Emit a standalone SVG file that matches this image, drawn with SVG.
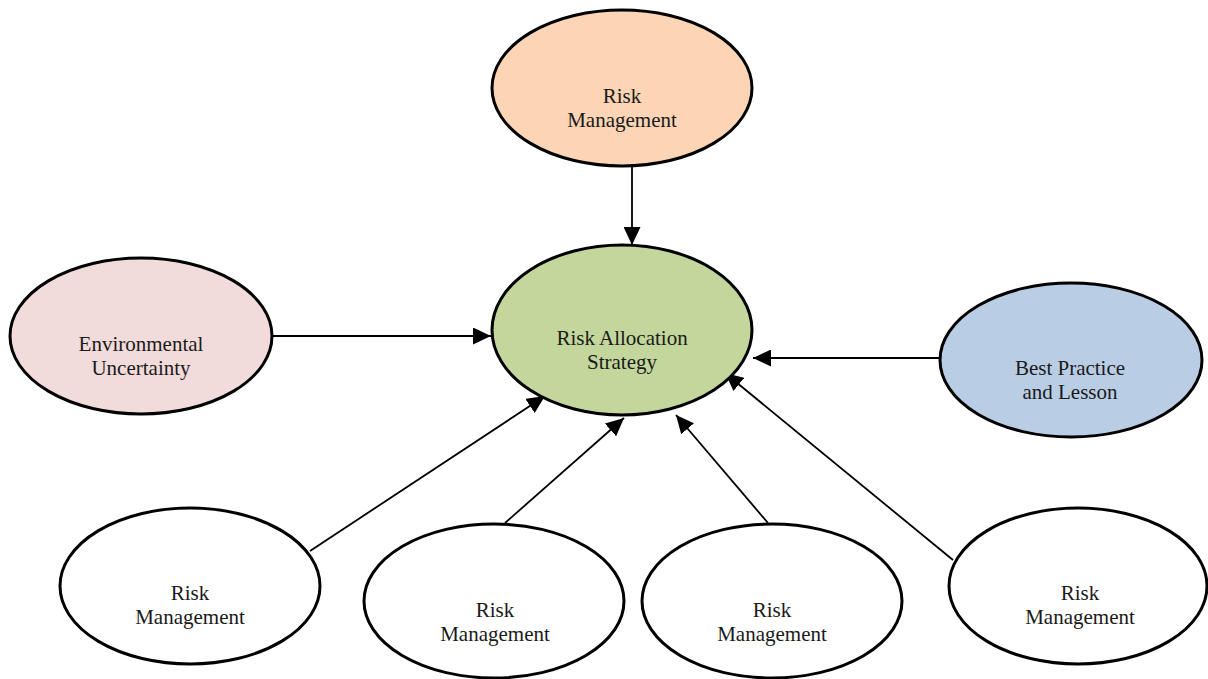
<svg xmlns="http://www.w3.org/2000/svg" width="1208" height="679" viewBox="0 0 1208 679">
  <defs>
    <marker id="arrow" markerUnits="userSpaceOnUse" markerWidth="19" markerHeight="17" refX="18" refY="8.5" orient="auto">
      <path d="M0,0 L18,8.5 L0,17 Z" fill="#000"/>
    </marker>
    <style>
      .node ellipse { stroke: #000; stroke-width: 3; }
      .node text { font-family: "Liberation Serif", "Times New Roman", serif; font-size: 21px; fill: #1a1a1a; text-anchor: middle; }
      .edge { stroke: #000; stroke-width: 1.8; fill: none; marker-end: url(#arrow); }
    </style>
  </defs>
  <rect width="1208" height="679" fill="#fff"/>

  <g id="connectors">
    <line class="edge" x1="632" y1="166" x2="632" y2="245"/>
    <line class="edge" x1="272" y1="336" x2="491" y2="336"/>
    <line class="edge" x1="940" y1="358" x2="753" y2="358"/>
    <line class="edge" x1="310" y1="551" x2="545" y2="396"/>
    <line class="edge" x1="505" y1="523" x2="624" y2="418"/>
    <line class="edge" x1="768" y1="523" x2="676" y2="415"/>
    <line class="edge" x1="953" y1="560" x2="725" y2="373"/>
  </g>

  <g id="node-top" class="node">
    <ellipse cx="622" cy="88" rx="130" ry="78" fill="#FBD5B5"/>
    <text x="622" y="103">Risk</text>
    <text x="622" y="127">Management</text>
  </g>

  <g id="node-center" class="node">
    <ellipse cx="622" cy="330" rx="130" ry="85" fill="#C3D69B"/>
    <text x="622" y="345">Risk Allocation</text>
    <text x="622" y="369">Strategy</text>
  </g>

  <g id="node-env" class="node">
    <ellipse cx="141" cy="336" rx="131" ry="78" fill="#F2DCDB"/>
    <text x="141" y="351">Environmental</text>
    <text x="141" y="375">Uncertainty</text>
  </g>

  <g id="node-best" class="node">
    <ellipse cx="1071" cy="360" rx="131" ry="77" fill="#B9CDE5"/>
    <text x="1070" y="375">Best Practice</text>
    <text x="1070" y="399">and Lesson</text>
  </g>

  <g id="node-rm1" class="node">
    <ellipse cx="190" cy="586" rx="130" ry="78" fill="#fff"/>
    <text x="190" y="600">Risk</text>
    <text x="190" y="624">Management</text>
  </g>

  <g id="node-rm2" class="node">
    <ellipse cx="494" cy="601" rx="130" ry="77" fill="#fff"/>
    <text x="495" y="617">Risk</text>
    <text x="495" y="641">Management</text>
  </g>

  <g id="node-rm3" class="node">
    <ellipse cx="772" cy="601" rx="130" ry="77" fill="#fff"/>
    <text x="772" y="617">Risk</text>
    <text x="772" y="641">Management</text>
  </g>

  <g id="node-rm4" class="node">
    <ellipse cx="1078" cy="586" rx="129" ry="78" fill="#fff"/>
    <text x="1080" y="600">Risk</text>
    <text x="1080" y="624">Management</text>
  </g>
</svg>
